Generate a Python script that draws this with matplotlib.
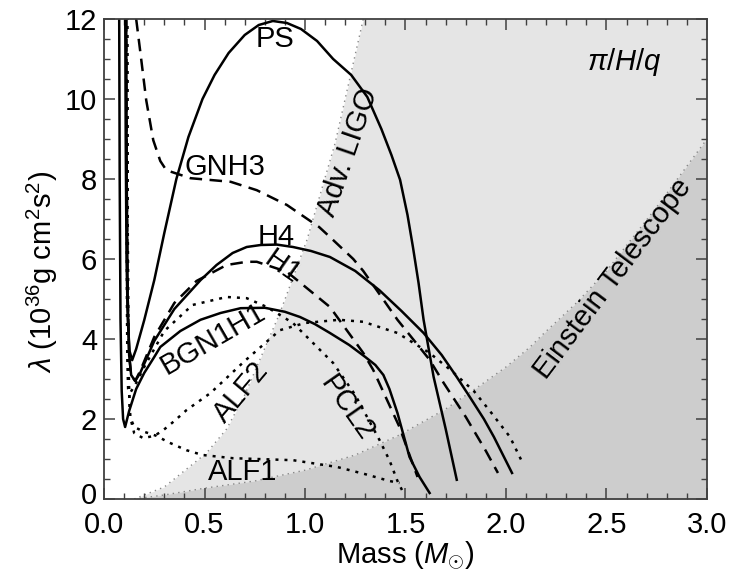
import numpy as np
import matplotlib
matplotlib.use('Agg')
import matplotlib.pyplot as plt
import matplotlib.transforms as mtransforms
from matplotlib.ticker import MultipleLocator, FormatStrFormatter, FuncFormatter

plt.rcParams['font.family'] = ['Liberation Sans', 'DejaVu Sans']
plt.rcParams['mathtext.fontset'] = 'custom'
plt.rcParams['mathtext.rm'] = 'Liberation Sans'
plt.rcParams['mathtext.it'] = 'Liberation Sans:italic'
plt.rcParams['mathtext.sf'] = 'Liberation Sans'

FS = 21

# Tidal deformability vs mass for each EOS
ps_mass = [0.105, 0.108, 0.112, 0.118, 0.127, 0.14, 0.16, 0.2, 0.25, 0.3, 0.36, 0.42, 0.49,
           0.55, 0.62, 0.7, 0.77, 0.84, 0.91, 0.98, 1.06, 1.14, 1.23, 1.31, 1.38, 1.43,
           1.473, 1.51, 1.537, 1.565, 1.59, 1.64, 1.70, 1.755]
ps_lam = [13.0, 9.0, 6.0, 4.5, 3.7, 3.47, 3.75, 4.47, 5.47, 6.65, 8.0, 9.05, 10.0,
          10.6, 11.15, 11.6, 11.85, 11.95, 11.9, 11.75, 11.45, 11.0, 10.6, 10.05, 9.25, 8.6,
          7.98, 7.1, 6.3, 5.4, 4.48, 3.05, 1.75, 0.48]

h4_mass = [0.11, 0.113, 0.118, 0.125, 0.135, 0.155, 0.18, 0.25, 0.35, 0.48, 0.56, 0.64, 0.71,
           0.78, 0.86, 0.94, 1.03, 1.124, 1.25, 1.37, 1.48, 1.59, 1.68, 1.755, 1.82, 1.89,
           1.94, 1.98, 2.01, 2.03]
h4_lam = [13.0, 8.0, 5.0, 3.6, 3.1, 2.95, 3.15, 3.95, 4.75, 5.47, 5.85, 6.15, 6.3,
          6.35, 6.36, 6.3, 6.2, 6.05, 5.7, 5.22, 4.7, 4.15, 3.6, 3.05, 2.55, 2.0,
          1.55, 1.15, 0.85, 0.65]

bgn_mass = [0.075, 0.078, 0.082, 0.088, 0.095, 0.105, 0.125, 0.16, 0.2, 0.25, 0.28, 0.38, 0.48,
            0.58, 0.68, 0.8, 0.9, 0.975, 1.05, 1.124, 1.22, 1.3, 1.35, 1.39, 1.42, 1.46,
            1.49, 1.52, 1.57, 1.62]
bgn_lam = [13.0, 8.0, 4.5, 2.7, 2.0, 1.8, 2.2, 2.75, 3.15, 3.55, 3.8, 4.2, 4.48,
           4.65, 4.77, 4.78, 4.68, 4.55, 4.37, 4.15, 3.85, 3.55, 3.35, 3.1, 2.75, 2.15,
           1.6, 1.05, 0.55, 0.15]

gnh3_mass = [0.152, 0.16, 0.18, 0.21, 0.245, 0.28, 0.31, 0.43, 0.63, 0.76, 0.91, 1.07, 1.124,
             1.24, 1.29, 1.46, 1.62, 1.69, 1.8, 1.9, 1.96]
gnh3_lam = [13.0, 12.0, 11.2, 9.97, 8.97, 8.45, 8.22, 8.02, 7.93, 7.72, 7.35, 6.8, 6.55,
            6.0, 5.7, 4.48, 3.48, 2.9, 2.05, 1.2, 0.65]

h1_mass = [0.11, 0.113, 0.118, 0.125, 0.135, 0.155, 0.18, 0.25, 0.35, 0.46, 0.61, 0.71, 0.76,
           0.91, 1.124, 1.29, 1.34, 1.47, 1.52, 1.56]
h1_lam = [13.0, 8.0, 5.0, 3.6, 3.1, 2.95, 3.2, 4.05, 4.9, 5.45, 5.85, 5.93, 5.93,
          5.68, 4.8, 3.65, 3.22, 1.8, 1.1, 0.55]

pcl2_mass = [0.11, 0.112, 0.114, 0.116, 0.12, 0.13, 0.16, 0.2, 0.3, 0.44, 0.61, 0.71, 0.81,
             0.94, 1.04, 1.14, 1.25, 1.37, 1.42, 1.46, 1.49]
pcl2_lam = [13.0, 8.0, 5.0, 3.5, 2.75, 2.65, 2.9, 3.3, 4.2, 4.85, 5.05, 5.02, 4.8,
            4.4, 3.9, 3.4, 2.6, 1.48, 0.97, 0.45, 0.15]

alf2_mass = [0.115, 0.117, 0.12, 0.124, 0.13, 0.15, 0.195, 0.25, 0.29, 0.35, 0.41, 0.53, 0.7,
             0.875, 1.0, 1.17, 1.29, 1.46, 1.62, 1.73, 1.84, 1.92, 2.02, 2.08]
alf2_lam = [13.0, 8.0, 4.5, 2.8, 2.05, 1.65, 1.52, 1.58, 1.7, 1.95, 2.22, 2.65, 3.45,
            4.22, 4.4, 4.48, 4.43, 4.15, 3.65, 3.2, 2.7, 2.2, 1.55, 0.93]

alf1_mass = [0.115, 0.117, 0.12, 0.124, 0.13, 0.15, 0.2, 0.26, 0.32, 0.41, 0.49, 0.64, 0.94,
             1.16, 1.3, 1.42, 1.47]
alf1_lam = [13.0, 8.0, 4.5, 2.8, 2.05, 1.8, 1.68, 1.58, 1.42, 1.22, 1.1, 1.02, 0.97,
            0.8, 0.62, 0.45, 0.4]

# detector sensitivity limits
ligo_mass = [0.15, 0.3, 0.51, 0.61, 0.7, 0.875, 1.01, 1.15, 1.29]
ligo_lam = [0.0, 0.3, 1.15, 1.75, 2.6, 4.65, 6.48, 8.9, 12.0]
et_mass = [0.15, 0.3, 0.5, 0.75, 1.0, 1.25, 1.47, 1.7, 1.86, 2.0, 2.12, 2.18, 2.35, 2.5, 2.75, 3.0]
et_lam = [0.0, 0.1, 0.27, 0.45, 0.72, 1.1, 1.6, 2.25, 2.8, 3.3, 3.8, 4.1, 4.9, 5.7, 7.3, 9.0]

dashed = (0, (5, 3))
dotted = (0, (1.2, 2.4))
curves = [
    (ps_mass, ps_lam, '-'),
    (h4_mass, h4_lam, '-'),
    (bgn_mass, bgn_lam, '-'),
    (gnh3_mass, gnh3_lam, dashed),
    (h1_mass, h1_lam, dashed),
    (pcl2_mass, pcl2_lam, dotted),
    (alf2_mass, alf2_lam, dotted),
    (alf1_mass, alf1_lam, dotted),
]

# label, x, y, rotation
labels = [
    ('PS', 0.85, 11.5, 0),
    ('GNH3', 0.6, 8.3, 0),
    ('H4', 0.855, 6.55, 0),
    ('H1', 0.89, 5.8, -35),
    ('BGN1H1', 0.54, 4.0, 30),
    ('ALF2', 0.68, 2.68, 50),
    ('PCL2', 1.21, 2.28, -55),
    ('ALF1', 0.69, 0.68, 0),
    ('Adv. LIGO', 1.214, 8.68, 71),
    ('Einstein Telescope', 2.53, 5.5, 53),
]

fig = plt.figure(figsize=(7.33, 5.79), dpi=100)
ax = fig.add_axes([0.1419, 0.1382, 0.8226, 0.829])

# shaded detectable regions
ax.fill_betweenx(ligo_lam, ligo_mass, 3.0, color='#e5e5e5', lw=0, zorder=0)
ax.fill_between(et_mass, 0, et_lam, color='#cdcdcd', lw=0, zorder=0.5)
ax.plot(ligo_mass, ligo_lam, color='#888888', lw=1.0, ls=(0, (1, 3)), zorder=1)
ax.plot(et_mass, et_lam, color='#888888', lw=1.0, ls=(0, (1, 3)), zorder=1)

for m, lam, ls in curves:
    ax.plot(m, lam, color='black', lw=1.8, ls=ls, zorder=3)

for txt, x, y, rot in labels:
    ax.text(x, y, txt, fontsize=FS, rotation=rot, ha='center', va='center',
            rotation_mode='anchor', zorder=4)
ax.text(2.59, 10.92, r'$\pi/H/q$', fontsize=FS, ha='center', va='center', zorder=4)

ax.set_xlim(0, 3)
ax.set_ylim(0, 12)
ax.xaxis.set_major_locator(MultipleLocator(0.5))
ax.xaxis.set_minor_locator(MultipleLocator(0.1))
ax.yaxis.set_major_locator(MultipleLocator(2))
ax.yaxis.set_minor_locator(MultipleLocator(0.5))
ax.xaxis.set_major_formatter(FormatStrFormatter('%.1f'))
# the y "0" is placed by hand just above the x "0.0"
ax.yaxis.set_major_formatter(FuncFormatter(lambda v, p: '' if v == 0 else '%d' % v))
ax.tick_params(which='both', direction='in', top=True, right=True, color='#404040',
               labelsize=FS)
ax.tick_params(axis='x', pad=8.5)
ax.tick_params(axis='y', pad=5)
ax.tick_params(which='major', length=8, width=1.1)
ax.tick_params(which='minor', length=4.5, width=1.0)
for s in ax.spines.values():
    s.set_color('#404040')
    s.set_linewidth(1.3)
    s.set_zorder(5)

zero_tr = mtransforms.offset_copy(ax.transAxes, fig=fig, x=-5, y=-3.3, units='points')
ax.text(0, 0, '0', transform=zero_tr, fontsize=FS, ha='right', va='baseline', clip_on=False)

ax.set_xlabel(r'Mass ($M_{\odot}$)', fontsize=FS, labelpad=0)
fig.text(0.058, 0.53, r'$\lambda$ (10$^{36}$g cm$^2$s$^2$)', fontsize=FS, rotation=90,
         ha='center', va='center')

fig.savefig('out.png', dpi=100)
